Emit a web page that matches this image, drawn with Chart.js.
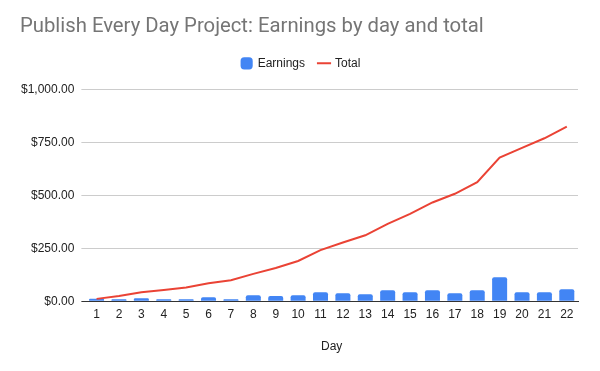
<!DOCTYPE html>
<html>
<head>
<meta charset="utf-8">
<script src="https://cdn.jsdelivr.net/npm/chart.js@4"></script>
<style>
  html, body { margin: 0; padding: 0; background: #fff; }
  #wrap { width: 600px; height: 371px; position: relative; }
</style>
</head>
<body>
<div id="wrap"><canvas id="earnChart"></canvas></div>
<script>
const days = ['1','2','3','4','5','6','7','8','9','10','11','12','13','14','15','16','17','18','19','20','21','22'];
const earnings = [11, 9, 14, 9, 9, 19, 9, 28, 24, 28, 42, 38, 33, 52, 42, 52, 38, 52, 113, 42, 42, 57];
const total = [11, 25, 42, 53, 65, 85, 99, 129, 157, 190, 241, 277, 311, 365, 412, 466, 507, 562, 678, 724, 769, 824];
const yTicks = [0, 250, 500, 750, 1000];

function money(v){
    return '$' + v.toLocaleString('en-US', {minimumFractionDigits: 2, maximumFractionDigits: 2});
}

// some room under the legend, and nudge title / legend sideways
const tweakLayout = {
    id: 'tweakLayout',
    beforeInit(chart){
        const fit = chart.legend.fit;
        chart.legend.fit = function(){
            fit.bind(chart.legend)();
            this.height += 10;
        };
    },
    afterLayout(chart){
        chart.titleBlock.left += 6;
        chart.titleBlock.right += 6;
        chart.legend.left += 5;
        chart.legend.right += 5;
    }
};

const fontName = 'Liberation Sans';
const ctx = document.getElementById('earnChart').getContext('2d');
const chart = new Chart(ctx, {
    type: 'bar',
    plugins: [tweakLayout],
    data: {
        labels: days,
        datasets: [{
            type: 'line',
            label: 'Total',
            data: total,
            borderColor: '#EA4335',
            backgroundColor: '#EA4335',
            borderWidth: 2,
            pointRadius: 0,
            pointStyle: 'line',
            tension: 0,
            order: 0
        }, {
            label: 'Earnings',
            data: earnings,
            backgroundColor: '#4285F4',
            borderRadius: {topLeft: 2, topRight: 2},
            borderSkipped: 'bottom',
            barPercentage: 0.67,
            categoryPercentage: 1,
            pointStyle: 'rectRounded',
            order: 1
        }]
    },
    options: {
        responsive: true,
        maintainAspectRatio: false,
        animation: false,
        layout: { padding: { left: 14, right: 22, top: 0, bottom: 13 } },
        plugins: {
            title: {
                display: true,
                text: 'Publish Every Day Project: Earnings by day and total',
                align: 'start',
                color: '#757575',
                font: { family: 'Roboto', size: 20.3, weight: 'normal' },
                padding: { top: 15, bottom: 4 }
            },
            legend: {
                position: 'top',
                reverse: true,
                labels: {
                    usePointStyle: true,
                    boxWidth: 10,
                    boxHeight: 10,
                    color: '#222',
                    font: { family: fontName, size: 12 },
                    padding: 14
                }
            },
            tooltip: { enabled: false }
        },
        scales: {
            x: {
                grid: { display: false, drawTicks: false },
                border: { color: '#333', width: 1 },
                ticks: { color: '#222', font: { family: fontName, size: 12 }, padding: 6, maxRotation: 0, autoSkip: false },
                title: { display: true, text: 'Day', color: '#222', font: { family: fontName, size: 12 }, padding: { top: 12 } }
            },
            y: {
                min: 0,
                max: 1000,
                afterBuildTicks: axis => { axis.ticks = yTicks.map(v => ({ value: v })); },
                grid: {
                    color: '#ccc',
                    tickLength: 4,
                    tickColor: c => (c.tick && c.tick.value === 0) ? '#333' : '#ccc'
                },
                border: { display: false },
                ticks: { color: '#222', font: { family: fontName, size: 12 }, padding: 7, callback: v => money(v) }
            }
        }
    }
});
</script>
</body>
</html>
